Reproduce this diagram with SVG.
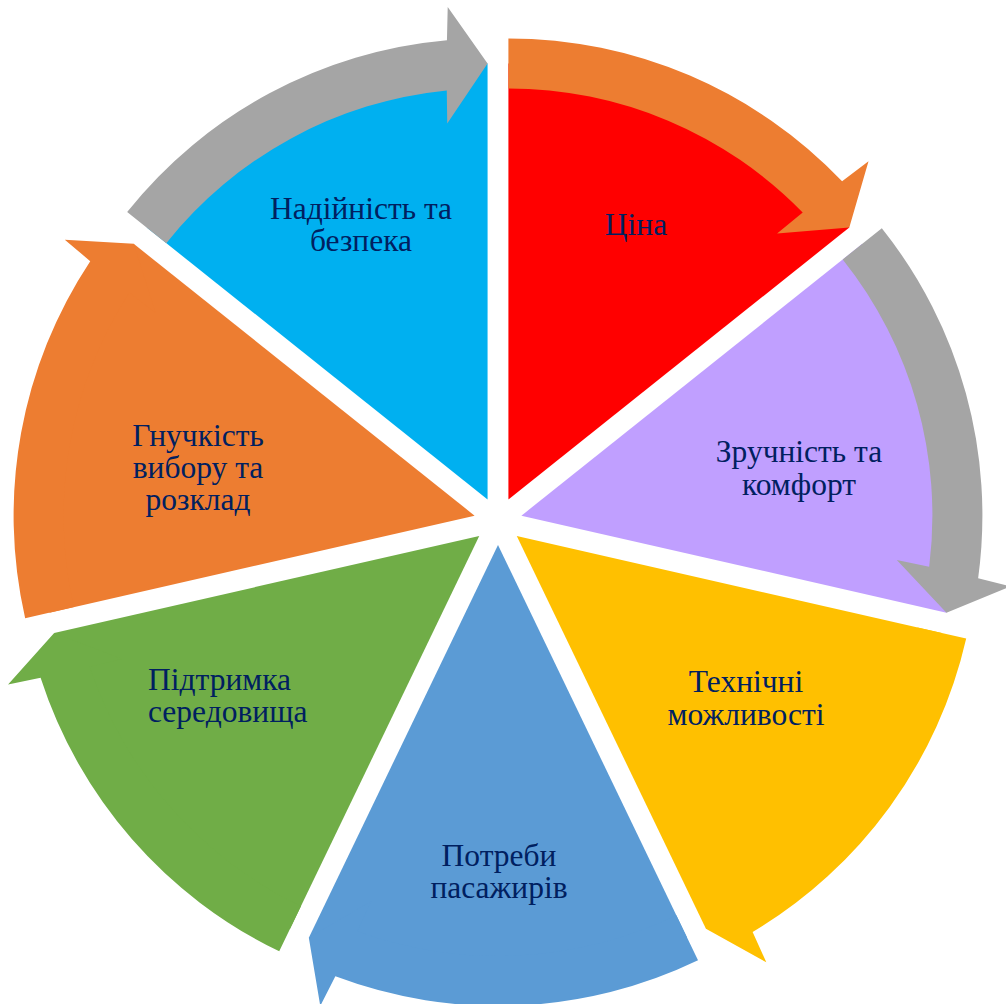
<svg xmlns="http://www.w3.org/2000/svg" xmlns:xlink="http://www.w3.org/1999/xlink" width="1006" height="1004" viewBox="0 0 1006 1004">
  <style>
    .lbl { font-family: "Liberation Serif", "Times New Roman", serif; font-size: 31.5px; fill: #002060; text-anchor: middle; }
    .lft { text-anchor: start; }
  </style>
  <defs>
    <path id="wedge" d="M0,0 L0,-436 A436,436 0 0 1 340.88,-271.84 Z"/>
    <path id="arrow" d="M0,-411 L0,-461 A461,461 0 0 1 333.68,-318.09 L360.11,-338.17 L340.88,-271.84 L268.68,-265.88 L294.30,-286.90 A411,411 0 0 0 0,-411 Z"/>
  </defs>
  <rect width="1006" height="1004" fill="#FFFFFF"/>

  <g id="node-tsina">
    <use xlink:href="#wedge" href="#wedge" fill="#FF0000" transform="translate(508.41,499.38) rotate(0)"/>
    <text class="lbl" x="636" y="235">Ціна</text>
  </g>
  <g id="node-zruchnist">
    <use xlink:href="#wedge" href="#wedge" fill="#C09FFF" transform="translate(521.40,515.66) rotate(51.4286)"/>
    <text class="lbl" x="799" y="462">Зручність та</text>
    <text class="lbl" x="799" y="495">комфорт</text>
  </g>
  <g id="node-tekhnichni">
    <use xlink:href="#wedge" href="#wedge" fill="#FFC000" transform="translate(516.76,535.96) rotate(102.857)"/>
    <text class="lbl" x="746" y="692">Технічні</text>
    <text class="lbl" x="746" y="725">можливості</text>
  </g>
  <g id="node-potreby">
    <use xlink:href="#wedge" href="#wedge" fill="#5B9BD5" transform="translate(498,545) rotate(154.286)"/>
    <text class="lbl" x="499" y="866">Потреби</text>
    <text class="lbl" x="499" y="898">пасажирів</text>
  </g>
  <g id="node-pidtrymka">
    <use xlink:href="#wedge" href="#wedge" fill="#70AD47" transform="translate(479.24,535.96) rotate(205.714)"/>
    <text class="lbl lft" x="148" y="690">Підтримка</text>
    <text class="lbl lft" x="148" y="722">середовища</text>
  </g>
  <g id="node-hnuchkist">
    <use xlink:href="#wedge" href="#wedge" fill="#ED7D31" transform="translate(474.60,515.66) rotate(257.143)"/>
    <text class="lbl" x="198" y="446">Гнучкість</text>
    <text class="lbl" x="198" y="478">вибору та</text>
    <text class="lbl" x="198" y="510">розклад</text>
  </g>
  <g id="node-nadiinist">
    <use xlink:href="#wedge" href="#wedge" fill="#00B0F0" transform="translate(487.59,499.38) rotate(308.571)"/>
    <text class="lbl" x="361" y="219">Надійність та</text>
    <text class="lbl" x="361" y="251">безпека</text>
  </g>

  <g id="connectors">
    <use xlink:href="#arrow" href="#arrow" fill="#ED7D31" transform="translate(508.41,499.38) rotate(0)"/>
    <use xlink:href="#arrow" href="#arrow" fill="#A5A5A5" transform="translate(521.40,515.66) rotate(51.4286)"/>
    <use xlink:href="#arrow" href="#arrow" fill="#FFC000" transform="translate(516.76,535.96) rotate(102.857)"/>
    <use xlink:href="#arrow" href="#arrow" fill="#5B9BD5" transform="translate(498,545) rotate(154.286)"/>
    <use xlink:href="#arrow" href="#arrow" fill="#70AD47" transform="translate(479.24,535.96) rotate(205.714)"/>
    <use xlink:href="#arrow" href="#arrow" fill="#ED7D31" transform="translate(474.60,515.66) rotate(257.143)"/>
    <use xlink:href="#arrow" href="#arrow" fill="#A5A5A5" transform="translate(487.59,499.38) rotate(308.571)"/>
  </g>
</svg>
